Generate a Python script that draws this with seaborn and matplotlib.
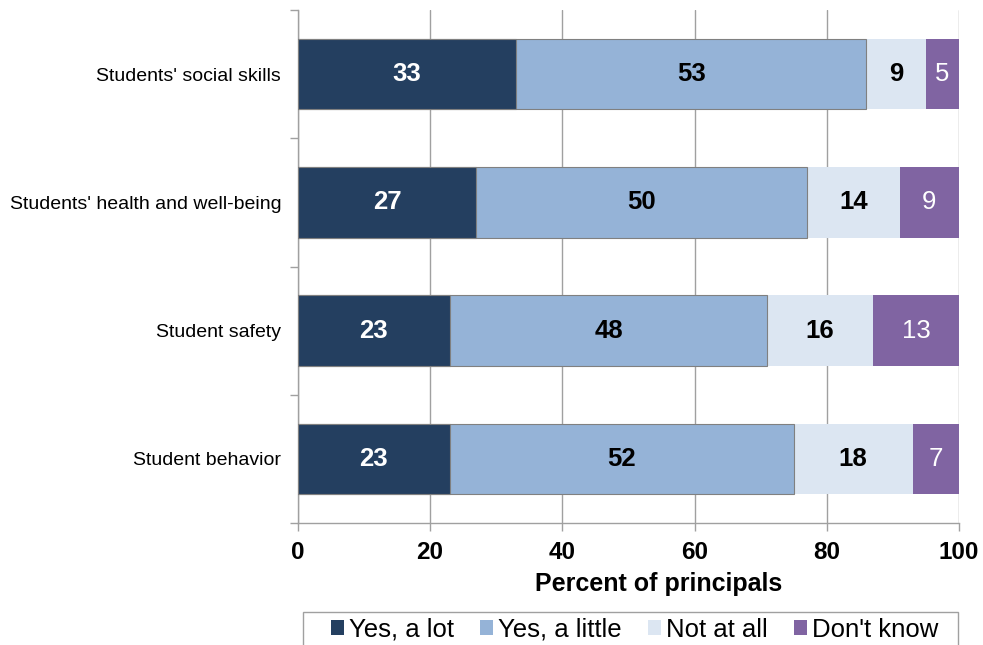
import matplotlib
matplotlib.use("Agg")
import matplotlib.pyplot as plt
import seaborn as sns
import pandas as pd
import numpy as np
from matplotlib.patches import Patch, Rectangle

categories = ["Students' social skills", "Students' health and well-being",
              "Student safety", "Student behavior"]
yes_a_lot = [33, 27, 23, 23]
yes_a_little = [53, 50, 48, 52]
not_at_all = [9, 14, 16, 18]
dont_know = [5, 9, 13, 7]
series_names = ["Yes, a lot", "Yes, a little", "Not at all", "Don't know"]
colors = ["#243F60", "#95B3D7", "#DCE6F2", "#8064A2"]
x_ticks = [0, 20, 40, 60, 80, 100]

sns.set_theme(style="white")
plt.rcParams['font.family'] = ['Liberation Sans', 'DejaVu Sans']
plt.rcParams['text.color'] = 'black'
plt.rcParams['xtick.color'] = '#A0A0A0'
plt.rcParams['ytick.color'] = '#A0A0A0'
plt.rcParams['xtick.labelcolor'] = 'black'
plt.rcParams['ytick.labelcolor'] = 'black'
plt.rcParams['axes.labelcolor'] = 'black'

series = [yes_a_lot, yes_a_little, not_at_all, dont_know]
df = pd.DataFrame({"category": categories})
cum = np.zeros(len(categories))
cums = []
for name, vals in zip(series_names, series):
    cum = cum + np.array(vals)
    cums.append(cum.copy())
    df[name] = cum.copy()

fig = plt.figure(figsize=(9.83, 6.45), dpi=100)
ax = fig.add_axes([0.303, 0.189, 0.6726, 0.7955])

edges = ["#808080", "#808080", "none", "none"]
for i in reversed(range(len(series_names))):
    sns.barplot(data=df, y="category", x=series_names[i], orient="h",
                color=colors[i], saturation=1, width=0.55, ax=ax,
                edgecolor=edges[i], linewidth=0.8, zorder=3)

# labels
label_styles = [("white", "bold"), ("black", "bold"), ("black", "bold"), ("white", "normal")]
for i, vals in enumerate(series):
    for j, v in enumerate(vals):
        center = cums[i][j] - v / 2
        col, wt = label_styles[i]
        ax.text(center, j, f"{v}", ha="center", va="center", color=col,
                fontsize=18.5, fontweight=wt, zorder=5)

ax.set_xlim(0, 100)
ax.set_ylim(3.5, -0.5)
ax.set_xticks(x_ticks)
ax.set_xticklabels([str(t) for t in x_ticks], fontsize=17.5, fontweight="bold")
ax.set_xlabel("Percent of principals", fontsize=18, fontweight="bold")
ax.xaxis.set_label_coords(0.545, -0.095)
ax.set_ylabel("")
ax.set_yticks(range(len(categories)))
ax.set_yticklabels(categories, fontsize=14)
ax.set_yticks(np.arange(-0.5, len(categories), 1.0), minor=True)
ax.tick_params(axis="y", which="major", length=0, pad=12)
ax.tick_params(axis="y", which="minor", length=6, color="#A0A0A0", width=1, left=True)
ax.tick_params(axis="x", which="major", length=6, color="#A0A0A0", width=1, bottom=True, pad=7)

ax.grid(axis="x", color="#A0A0A0", linewidth=1, zorder=0)
ax.set_axisbelow(True)
for s in ["top", "right"]:
    ax.spines[s].set_visible(False)
for s in ["left", "bottom"]:
    ax.spines[s].set_color("#A0A0A0")
    ax.spines[s].set_linewidth(1)

handles = [Patch(facecolor=c, edgecolor="none") for c in colors]
leg = fig.legend(handles, series_names, loc="center", bbox_to_anchor=(0.6455, 0.024),
                 ncol=4, fontsize=18.5, frameon=False,
                 handlelength=0.52, handleheight=0.52, handletextpad=0.2,
                 columnspacing=1.0, borderpad=0.0)
fig.patches.append(Rectangle((303 / 983, -0.02), (958 - 303) / 983, (645 - 612) / 645 + 0.02,
                             transform=fig.transFigure, fill=False,
                             edgecolor="#A0A0A0", linewidth=1))

fig.savefig("out.png", dpi=100)
